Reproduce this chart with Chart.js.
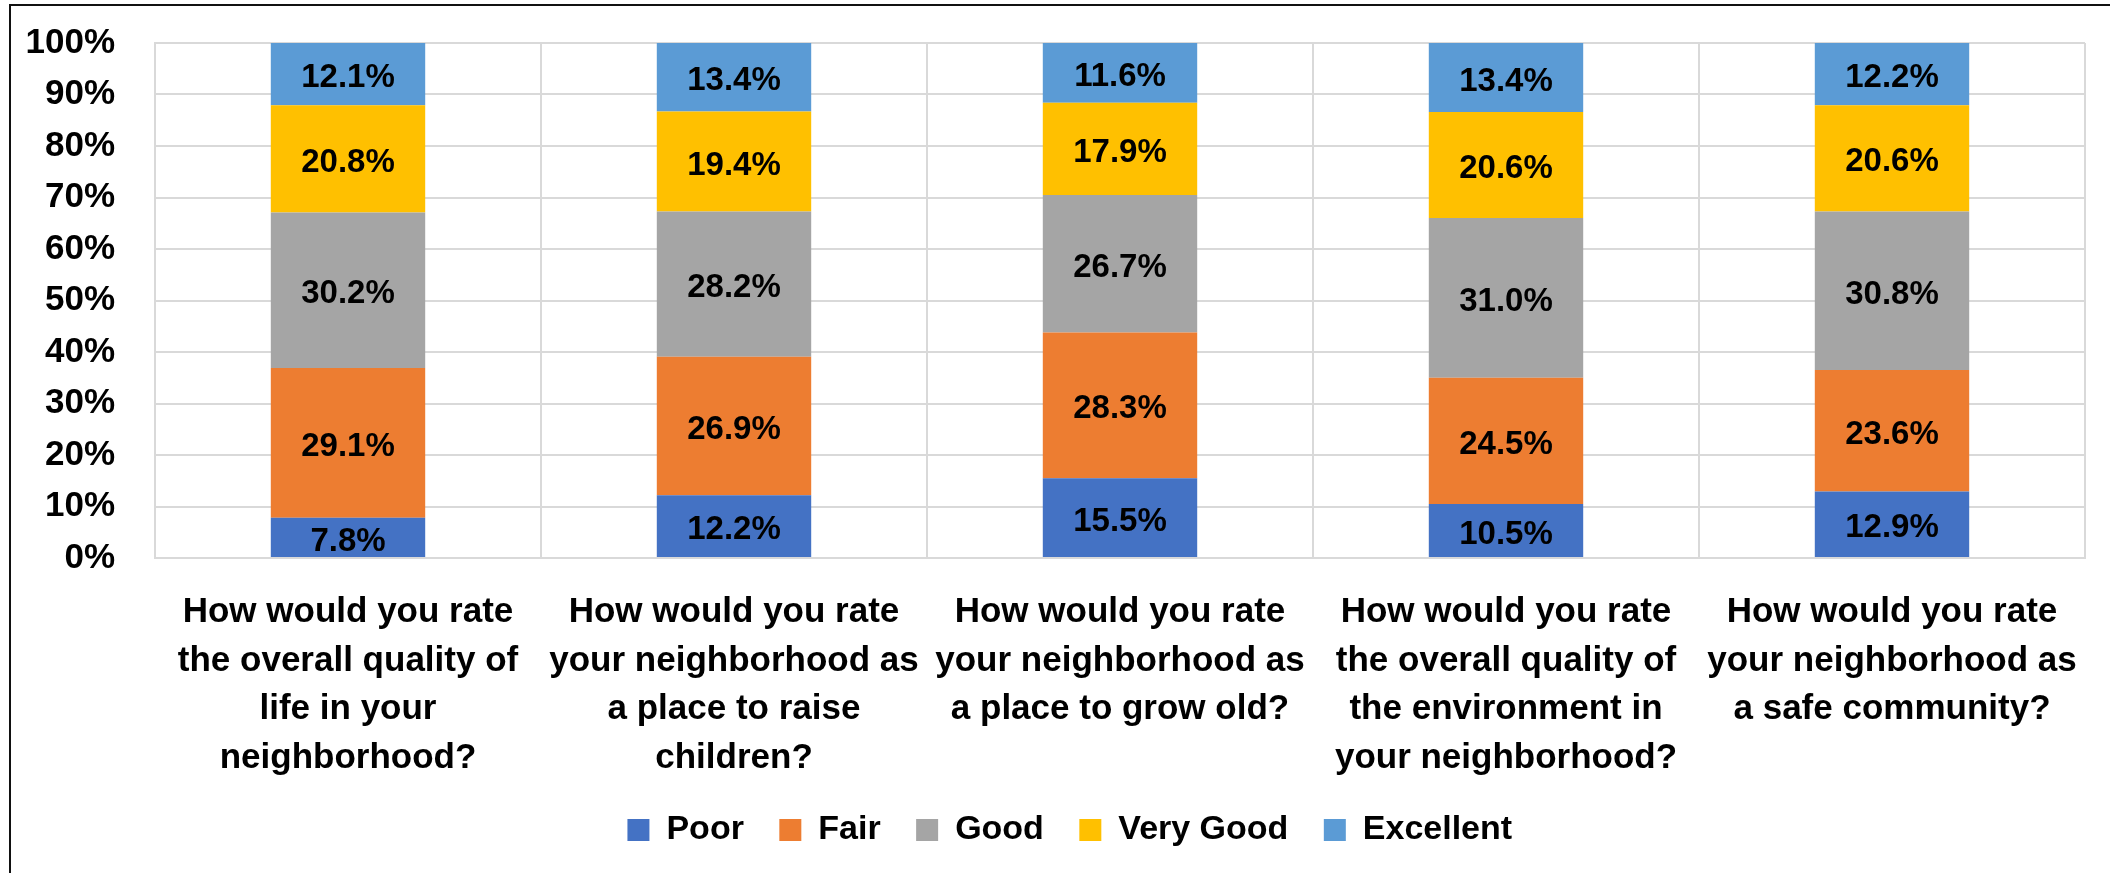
<!DOCTYPE html>
<html>
<head>
<meta charset="utf-8">
<script src="https://cdn.jsdelivr.net/npm/chart.js@4.4.1/dist/chart.umd.min.js"></script>
<style>
    html, body { margin: 0; padding: 0; background: #fff; }
    #wrap { position: relative; width: 2110px; height: 873px; overflow: hidden; }
    #frame { position: absolute; left: 9px; top: 4px; width: 2200px; height: 900px; border-left: 2px solid #111; border-top: 2px solid #111; }
    #chart { position: absolute; left: 0; top: 0; }
</style>
</head>
<body>
<div id="wrap">
    <div id="frame"></div>
    <canvas id="chart" width="2110" height="873"></canvas>
</div>
<script>
var categories = [
    ['How would you rate', 'the overall quality of', 'life in your', 'neighborhood?'],
    ['How would you rate', 'your neighborhood as', 'a place to raise', 'children?'],
    ['How would you rate', 'your neighborhood as', 'a place to grow old?'],
    ['How would you rate', 'the overall quality of', 'the environment in', 'your neighborhood?'],
    ['How would you rate', 'your neighborhood as', 'a safe community?']
];
var poor = [7.8, 12.2, 15.5, 10.5, 12.9];
var fair = [29.1, 26.9, 28.3, 24.5, 23.6];
var good = [30.2, 28.2, 26.7, 31.0, 30.8];
var veryGood = [20.8, 19.4, 17.9, 20.6, 20.6];
var excellent = [12.1, 13.4, 11.6, 13.4, 12.2];
var yTicks = [0, 10, 20, 30, 40, 50, 60, 70, 80, 90, 100];

var font = "'Liberation Sans Narrow', 'Arial Narrow', 'Liberation Sans', Arial, sans-serif";

// value labels centred in each segment
var barLabels = {
    id: 'barLabels',
    afterDatasetsDraw: function (chart) {
        var ctx = chart.ctx;
        ctx.save();
        ctx.font = 'bold 33px ' + font;
        ctx.fillStyle = '#000';
        ctx.textAlign = 'center';
        ctx.textBaseline = 'middle';
        chart.data.datasets.forEach(function (ds, i) {
            chart.getDatasetMeta(i).data.forEach(function (bar, j) {
                ctx.fillText(ds.data[j].toFixed(1) + '%', bar.x, (bar.y + bar.base) / 2 + 4);
            });
        });
        ctx.restore();
    }
};

// legend in the original sits a little right of the canvas centre
var legendShift = {
    id: 'legendShift',
    afterLayout: function (chart) {
        chart.legend.left += 27;
        chart.legend.right += 27;
    }
};

function ds(label, data, color) {
    return { label: label, data: data, backgroundColor: color, borderWidth: 0, categoryPercentage: 1, barPercentage: 0.4 };
}

new Chart(document.getElementById('chart'), {
    type: 'bar',
    data: {
        labels: categories,
        datasets: [
            ds('Poor', poor, '#4472C4'),
            ds('Fair', fair, '#ED7D31'),
            ds('Good', good, '#A5A5A5'),
            ds('Very Good', veryGood, '#FFC000'),
            ds('Excellent', excellent, '#5B9BD5')
        ]
    },
    options: {
        responsive: false, animation: false,
        layout: { padding: { top: 43, right: 25, bottom: 16, left: 10 } },
        plugins: {
            legend: {
                position: 'bottom',
                labels: {
                    boxWidth: 22, boxHeight: 22, padding: 26, color: '#000',
                    font: { family: font, size: 34, weight: 'bold' },
                    generateLabels: function (chart) {
                        return Chart.defaults.plugins.legend.labels.generateLabels(chart).map(function (l) {
                            l.text = l.text + ' ';
                            return l;
                        });
                    }
                }
            },
            tooltip: { enabled: false }
        },
        scales: {
            x: {
                stacked: true,
                grid: { color: '#d9d9d9', lineWidth: 2, offset: true, drawTicks: false },
                border: { color: '#d9d9d9', width: 2 },
                ticks: { color: '#000', padding: 30, autoSkip: false, maxRotation: 0, font: { family: "'Liberation Sans', Arial, sans-serif", size: 35, weight: 'bold', lineHeight: 1.39 } },
                afterFit: function (s) { s.height = 229; }
            },
            y: {
                stacked: true, min: 0, max: 100,
                afterBuildTicks: function (s) { s.ticks = yTicks.map(function (v) { return { value: v }; }); },
                grid: { color: '#d9d9d9', lineWidth: 2, drawTicks: true, tickLength: 40, tickColor: 'rgba(0,0,0,0)' },
                border: { color: '#d9d9d9', width: 2 },
                ticks: { color: '#000', padding: 0, callback: function (v) { return v + '%'; }, font: { family: font, size: 35, weight: 'bold' } },
                afterFit: function (s) { s.width = 145; }
            }
        }
    },
    plugins: [barLabels, legendShift]
});
</script>
</body>
</html>
